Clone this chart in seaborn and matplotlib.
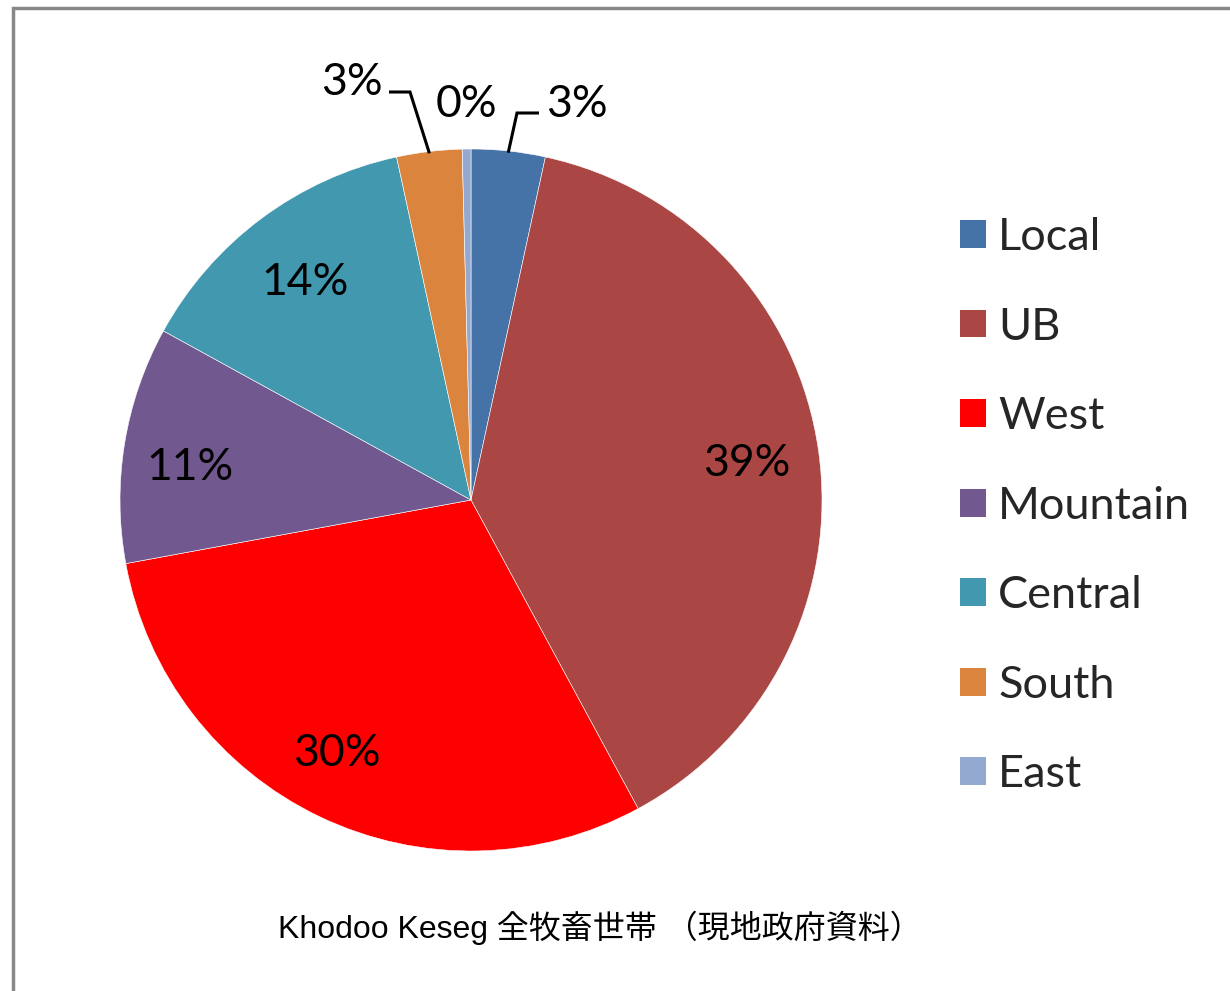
import numpy as np
import matplotlib
matplotlib.use("Agg")
import matplotlib.pyplot as plt
from matplotlib.lines import Line2D
from matplotlib.patches import Patch
import seaborn as sns

sns.set_theme(style="white")
plt.rcParams['font.family'] = ['Lato', 'DejaVu Sans']

categories = ["Local", "UB", "West", "Mountain", "Central", "South", "East"]
shares = [3.4, 38.7, 30.0, 10.9, 13.6, 3.0, 0.4]
colors = ["#4572A7", "#AA4643", "#FF0000", "#71588F", "#4198AF", "#DB843D", "#93A9CF"]
title = "Khodoo Keseg 全牧畜世帯 （現地政府資料）"

W, H = 1230, 991
fig = plt.figure(figsize=(W / 100, H / 100), dpi=100)
fig.patch.set_facecolor("white")

cx, cy, r = 471, 500, 351
ax = fig.add_axes([(cx - r) / W, (H - cy - r) / H, 2 * r / W, 2 * r / H])

wedges, texts, autotexts = ax.pie(
    shares, colors=colors, startangle=90, counterclock=False,
    autopct=lambda p: f"{p:.0f}%", pctdistance=0.8, radius=1.0,
    wedgeprops=dict(edgecolor="white", linewidth=0.4),
    textprops=dict(fontsize=32, color="black"))
ax.set_xlim(-1, 1)
ax.set_ylim(-1, 1)
ax.set_aspect("equal")
ax.axis("off")


def to_data(px, py):
    """pixel position in the figure -> pie data units"""
    return (px - cx) / r, (cy - py) / r


# label layout (x centre, baseline y) in pixels
label_layout = {
    "Local": (577, 117), "UB": (747, 476), "West": (337, 766),
    "Mountain": (190, 480), "Central": (305, 295), "South": (352, 95),
    "East": (466, 117),
}
leader_elbows = {
    "South": [(410, 92), (389, 92)],
    "Local": [(517, 113), (539, 113)],
}
for i, name in enumerate(categories):
    at = autotexts[i]
    at.set_position(to_data(*label_layout[name]))
    at.set_ha("center")
    at.set_va("baseline")


def mid_angle(w):
    return np.deg2rad((w.theta1 + w.theta2) / 2)


for name, pts in leader_elbows.items():
    i = categories.index(name)
    a = mid_angle(wedges[i])
    xs = [0.995 * np.cos(a)] + [to_data(*p)[0] for p in pts]
    ys = [0.995 * np.sin(a)] + [to_data(*p)[1] for p in pts]
    ax.plot(xs, ys, color="black", lw=2.2, solid_joinstyle="miter",
            solid_capstyle="butt", clip_on=False)

handles = [Patch(facecolor=c, edgecolor="none") for c in colors]
fig.legend(handles, categories, loc="upper left",
           bbox_to_anchor=(960 / W, 1 - 217 / H), frameon=False,
           fontsize=32.5, handlelength=0.57, handleheight=0.57,
           handletextpad=0.28, labelspacing=1.075, borderaxespad=0,
           borderpad=0)

fig.text(600 / W, 1 - 928 / H, title, ha="center", va="center", fontsize=23,
         family=["Liberation Sans", "Noto Sans CJK JP"], color="black")

# Chart frame
bx, by = 12.5 / W, 1 - 7.5 / H
fig.add_artist(Line2D([bx, bx, 1.0], [0.0, by, by], transform=fig.transFigure,
                      color="#888888", lw=2.5, solid_joinstyle="miter"))

fig.savefig("out.png", dpi=100, facecolor="white")
